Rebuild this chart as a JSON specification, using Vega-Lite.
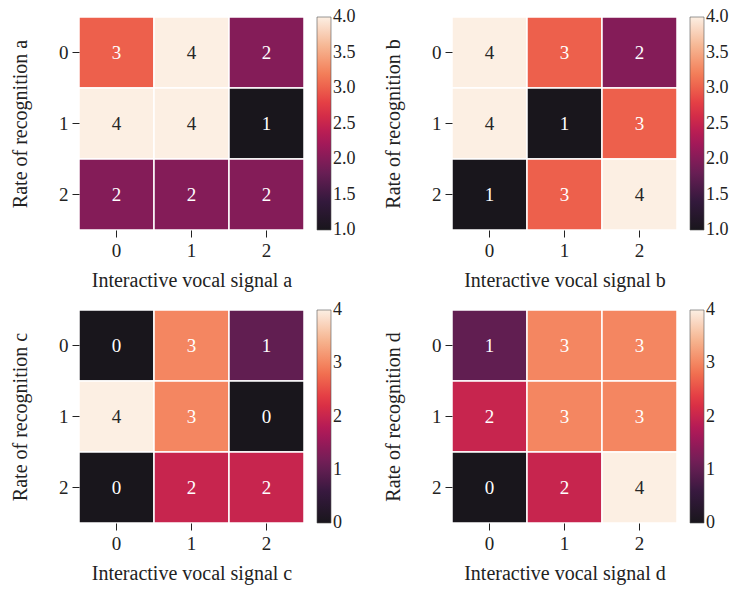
{
  "$schema": "https://vega.github.io/schema/vega-lite/v6.json",
  "padding": {"left": 10, "top": 16, "right": 2, "bottom": 2},
  "background": "white",
  "config": {
    "font": "Liberation Serif",
    "view": {"stroke": null},
    "axis": {
      "domain": false,
      "tickSize": 7,
      "tickColor": "#222",
      "tickWidth": 1,
      "labelFontSize": 19,
      "labelColor": "#222",
      "labelFont": "Liberation Serif",
      "titleFont": "Liberation Serif",
      "titleFontSize": 20,
      "titleFontWeight": "normal",
      "titleColor": "#222",
      "grid": false
    },
    "axisX": {"labelAngle": 0, "labelPadding": 4, "titlePadding": 10},
    "axisY": {"labelAngle": 0, "labelPadding": 4, "titlePadding": 28},
    "legend": {
      "labelFont": "Liberation Serif",
      "labelFontSize": 18,
      "labelColor": "#222",
      "labelOffset": 7,
      "labelOverlap": false,
      "gradientLength": 213,
      "gradientThickness": 14,
      "gradientStrokeColor": "#555",
      "gradientStrokeWidth": 0.6,
      "offset": 13,
      "padding": 0
    }
  },
  "resolve": {"scale": {"color": "independent"}, "legend": {"color": "independent"}},
  "data": {
    "values": [
      {"panel": "a", "row": 0, "col": 0, "value": 3},
      {"panel": "a", "row": 0, "col": 1, "value": 4},
      {"panel": "a", "row": 0, "col": 2, "value": 2},
      {"panel": "a", "row": 1, "col": 0, "value": 4},
      {"panel": "a", "row": 1, "col": 1, "value": 4},
      {"panel": "a", "row": 1, "col": 2, "value": 1},
      {"panel": "a", "row": 2, "col": 0, "value": 2},
      {"panel": "a", "row": 2, "col": 1, "value": 2},
      {"panel": "a", "row": 2, "col": 2, "value": 2},
      {"panel": "b", "row": 0, "col": 0, "value": 4},
      {"panel": "b", "row": 0, "col": 1, "value": 3},
      {"panel": "b", "row": 0, "col": 2, "value": 2},
      {"panel": "b", "row": 1, "col": 0, "value": 4},
      {"panel": "b", "row": 1, "col": 1, "value": 1},
      {"panel": "b", "row": 1, "col": 2, "value": 3},
      {"panel": "b", "row": 2, "col": 0, "value": 1},
      {"panel": "b", "row": 2, "col": 1, "value": 3},
      {"panel": "b", "row": 2, "col": 2, "value": 4},
      {"panel": "c", "row": 0, "col": 0, "value": 0},
      {"panel": "c", "row": 0, "col": 1, "value": 3},
      {"panel": "c", "row": 0, "col": 2, "value": 1},
      {"panel": "c", "row": 1, "col": 0, "value": 4},
      {"panel": "c", "row": 1, "col": 1, "value": 3},
      {"panel": "c", "row": 1, "col": 2, "value": 0},
      {"panel": "c", "row": 2, "col": 0, "value": 0},
      {"panel": "c", "row": 2, "col": 1, "value": 2},
      {"panel": "c", "row": 2, "col": 2, "value": 2},
      {"panel": "d", "row": 0, "col": 0, "value": 1},
      {"panel": "d", "row": 0, "col": 1, "value": 3},
      {"panel": "d", "row": 0, "col": 2, "value": 3},
      {"panel": "d", "row": 1, "col": 0, "value": 2},
      {"panel": "d", "row": 1, "col": 1, "value": 3},
      {"panel": "d", "row": 1, "col": 2, "value": 3},
      {"panel": "d", "row": 2, "col": 0, "value": 0},
      {"panel": "d", "row": 2, "col": 1, "value": 2},
      {"panel": "d", "row": 2, "col": 2, "value": 4}
    ]
  },
  "columns": 2,
  "spacing": {"row": 19, "column": 27},
  "concat": [
    {
      "width": 225, "height": 213,
      "transform": [{"filter": "datum.panel == 'a'"}],
      "encoding": {
        "x": {"field": "col", "type": "ordinal", "scale": {"paddingInner": 0, "paddingOuter": 0}, "axis": {"title": "Interactive vocal signal a"}},
        "y": {"field": "row", "type": "ordinal", "scale": {"paddingInner": 0, "paddingOuter": 0}, "axis": {"title": "Rate of recognition a"}}
      },
      "layer": [
        {"mark": {"type": "rect", "stroke": "white", "strokeWidth": 1.5},
         "encoding": {"color": {"field": "value", "type": "quantitative",
           "scale": {"domain": [1, 4], "interpolate": "rgb", "range": ["#19161c", "#35193e", "#701f57", "#ad1759", "#e13342", "#f37651", "#f6b48f", "#fcefe3"]},
           "legend": {"title": null, "values": [1, 1.5, 2, 2.5, 3, 3.5, 4], "format": ".1f", "encode": {"labels": {"update": {"baseline": {"value": "middle"}}}}}}}},
        {"mark": {"type": "text", "fontSize": 19, "font": "Liberation Serif"},
         "encoding": {"text": {"field": "value", "type": "quantitative"},
           "color": {"condition": {"test": "datum.value >= 4", "value": "#262626"}, "value": "white"}}}
      ]
    },
    {
      "width": 225, "height": 213,
      "transform": [{"filter": "datum.panel == 'b'"}],
      "encoding": {
        "x": {"field": "col", "type": "ordinal", "scale": {"paddingInner": 0, "paddingOuter": 0}, "axis": {"title": "Interactive vocal signal b"}},
        "y": {"field": "row", "type": "ordinal", "scale": {"paddingInner": 0, "paddingOuter": 0}, "axis": {"title": "Rate of recognition b"}}
      },
      "layer": [
        {"mark": {"type": "rect", "stroke": "white", "strokeWidth": 1.5},
         "encoding": {"color": {"field": "value", "type": "quantitative",
           "scale": {"domain": [1, 4], "interpolate": "rgb", "range": ["#19161c", "#35193e", "#701f57", "#ad1759", "#e13342", "#f37651", "#f6b48f", "#fcefe3"]},
           "legend": {"title": null, "values": [1, 1.5, 2, 2.5, 3, 3.5, 4], "format": ".1f", "encode": {"labels": {"update": {"baseline": {"value": "middle"}}}}}}}},
        {"mark": {"type": "text", "fontSize": 19, "font": "Liberation Serif"},
         "encoding": {"text": {"field": "value", "type": "quantitative"},
           "color": {"condition": {"test": "datum.value >= 4", "value": "#262626"}, "value": "white"}}}
      ]
    },
    {
      "width": 225, "height": 213,
      "transform": [{"filter": "datum.panel == 'c'"}],
      "encoding": {
        "x": {"field": "col", "type": "ordinal", "scale": {"paddingInner": 0, "paddingOuter": 0}, "axis": {"title": "Interactive vocal signal c"}},
        "y": {"field": "row", "type": "ordinal", "scale": {"paddingInner": 0, "paddingOuter": 0}, "axis": {"title": "Rate of recognition c"}}
      },
      "layer": [
        {"mark": {"type": "rect", "stroke": "white", "strokeWidth": 1.5},
         "encoding": {"color": {"field": "value", "type": "quantitative",
           "scale": {"domain": [0, 4], "interpolate": "rgb", "range": ["#19161c", "#35193e", "#701f57", "#ad1759", "#e13342", "#f37651", "#f6b48f", "#fcefe3"]},
           "legend": {"title": null, "values": [0, 1, 2, 3, 4], "format": "d", "encode": {"labels": {"update": {"baseline": {"value": "middle"}}}}}}}},
        {"mark": {"type": "text", "fontSize": 19, "font": "Liberation Serif"},
         "encoding": {"text": {"field": "value", "type": "quantitative"},
           "color": {"condition": {"test": "datum.value >= 4", "value": "#262626"}, "value": "white"}}}
      ]
    },
    {
      "width": 225, "height": 213,
      "transform": [{"filter": "datum.panel == 'd'"}],
      "encoding": {
        "x": {"field": "col", "type": "ordinal", "scale": {"paddingInner": 0, "paddingOuter": 0}, "axis": {"title": "Interactive vocal signal d"}},
        "y": {"field": "row", "type": "ordinal", "scale": {"paddingInner": 0, "paddingOuter": 0}, "axis": {"title": "Rate of recognition d"}}
      },
      "layer": [
        {"mark": {"type": "rect", "stroke": "white", "strokeWidth": 1.5},
         "encoding": {"color": {"field": "value", "type": "quantitative",
           "scale": {"domain": [0, 4], "interpolate": "rgb", "range": ["#19161c", "#35193e", "#701f57", "#ad1759", "#e13342", "#f37651", "#f6b48f", "#fcefe3"]},
           "legend": {"title": null, "values": [0, 1, 2, 3, 4], "format": "d", "encode": {"labels": {"update": {"baseline": {"value": "middle"}}}}}}}},
        {"mark": {"type": "text", "fontSize": 19, "font": "Liberation Serif"},
         "encoding": {"text": {"field": "value", "type": "quantitative"},
           "color": {"condition": {"test": "datum.value >= 4", "value": "#262626"}, "value": "white"}}}
      ]
    }
  ]
}
